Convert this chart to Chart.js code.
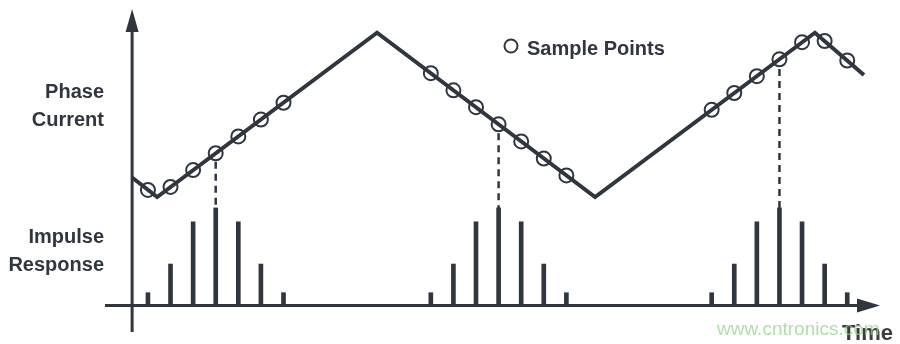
<!DOCTYPE html>
<html lang="en">
  <head>
    <meta charset="UTF-8" />
    <title>Phase Current Sampling and Impulse Response</title>
    <script src="https://cdn.jsdelivr.net/npm/chart.js"></script>
    <style>
      body { margin: 0; background: #ffffff; }
    </style>
  </head>
  <body>
    <canvas id="chart" width="900" height="344"></canvas>
    <script>
      // phase current waveform (time in sample periods, amplitude arbitrary)
      const waveTime = [0, 1.11, 10.84, 20.49, 30.22, 32.39];
      const waveCurrent = [43.3, 36.7, 92.3, 36.7, 92.3, 78];

      // sample points on the waveform
      const sampleTime = [
        0.7, 1.7, 2.7, 3.7, 4.7, 5.7, 6.7,
        13.22, 14.22, 15.22, 16.22, 17.22, 18.22, 19.22,
        25.65, 26.65, 27.65, 28.65, 29.65, 30.65, 31.65,
      ];
      const sampleCurrent = [
        39.1, 40.1, 45.8, 51.5, 57.2, 62.9, 68.6,
        78.6, 72.8, 67.1, 61.3, 55.5, 49.7, 44.0,
        66.2, 71.9, 77.6, 83.3, 89.1, 89.5, 82.9,
      ];

      // impulse response taps under each group of samples
      const impulseHeight = [
        4.3, 14, 28.3, 33, 28.3, 14, 4.3,
        4.3, 14, 28.3, 33, 28.3, 14, 4.3,
        4.3, 14, 28.3, 33, 28.3, 14, 4.3,
      ];

      // dashed markers from centre sample down to peak tap
      const dashTime = [3.7, 16.22, 28.65];
      const dashTop = [48.6, 58.3, 80];
      const dashBottom = [33, 33, 33];

      const ink = "#30363f";

      const axesPlugin = {
        id: "axes",
        beforeDatasetsDraw(chart) {
          const { ctx, chartArea, scales } = chart;
          const x0 = scales.x.getPixelForValue(0);
          const y0 = scales.y.getPixelForValue(0);
          ctx.save();
          ctx.strokeStyle = ink;
          ctx.fillStyle = ink;
          ctx.lineWidth = 3;
          ctx.beginPath();
          ctx.moveTo(x0, chartArea.bottom);
          ctx.lineTo(x0, chartArea.top + 20);
          ctx.moveTo(chartArea.left, y0);
          ctx.lineTo(chartArea.right - 20, y0);
          ctx.stroke();
          // arrow heads
          ctx.beginPath();
          ctx.moveTo(x0, chartArea.top);
          ctx.lineTo(x0 + 6.5, chartArea.top + 23);
          ctx.lineTo(x0 - 6.5, chartArea.top + 23);
          ctx.closePath();
          ctx.fill();
          ctx.beginPath();
          ctx.moveTo(chartArea.right, y0);
          ctx.lineTo(chartArea.right - 23, y0 - 7);
          ctx.lineTo(chartArea.right - 23, y0 + 7);
          ctx.closePath();
          ctx.fill();
          ctx.restore();
        },
        afterDraw(chart) {
          const { ctx } = chart;
          ctx.save();
          ctx.fillStyle = ink;
          ctx.font = 'bold 20px "Liberation Sans", Arial, sans-serif';
          ctx.textAlign = "right";
          ctx.textBaseline = "alphabetic";
          ctx.fillText("Phase", 104, 98);
          ctx.fillText("Current", 104, 126);
          ctx.fillText("Impulse", 104, 243);
          ctx.fillText("Response", 104, 271);

          // legend
          ctx.lineWidth = 2;
          ctx.strokeStyle = ink;
          ctx.beginPath();
          ctx.arc(511, 46, 6.5, 0, Math.PI * 2);
          ctx.stroke();
          ctx.textAlign = "left";
          ctx.fillText("Sample Points", 527, 55);

          ctx.fillStyle = "#3c3c3c";
          ctx.font = 'bold 22px "Liberation Sans", Arial, sans-serif';
          ctx.fillText("Time", 842, 340);

          ctx.fillStyle = "rgba(150, 210, 140, 0.75)";
          ctx.font = '19px "Liberation Sans", Arial, sans-serif';
          ctx.fillText("www.cntronics.com", 717, 335);
          ctx.restore();
        },
      };

      const dashSets = dashTime.map((t, i) => ({
        type: "line",
        data: [
          { x: t, y: dashTop[i] },
          { x: t, y: dashBottom[i] },
        ],
        borderColor: ink,
        borderWidth: 2.5,
        borderDash: [7, 5],
        pointRadius: 0,
        order: 3,
      }));

      const ctx = document.getElementById("chart").getContext("2d");
      new Chart(ctx, {
        type: "scatter",
        data: {
          datasets: [
            {
              type: "line",
              label: "Phase Current",
              data: waveTime.map((t, i) => ({ x: t, y: waveCurrent[i] })),
              borderColor: ink,
              borderWidth: 4,
              borderJoinStyle: "miter",
              pointRadius: 0,
              tension: 0,
              fill: false,
              order: 2,
            },
            {
              type: "scatter",
              label: "Sample Points",
              data: sampleTime.map((t, i) => ({ x: t, y: sampleCurrent[i] })),
              pointRadius: 7,
              pointBorderWidth: 2,
              pointBorderColor: ink,
              pointBackgroundColor: "rgba(0,0,0,0)",
              order: 1,
            },
            {
              type: "bar",
              label: "Impulse Response",
              data: sampleTime.map((t, i) => ({ x: t, y: impulseHeight[i] })),
              backgroundColor: ink,
              borderWidth: 0,
              barThickness: 4,
              order: 4,
            },
            ...dashSets,
          ],
        },
        options: {
          responsive: false,
          animation: false,
          layout: { padding: { left: 105, right: 20, top: 4, bottom: 12 } },
          scales: {
            x: { type: "linear", display: false, min: -1.2, max: 33.1, offset: false },
            y: { type: "linear", display: false, min: -9, max: 100.33 },
          },
          plugins: {
            legend: { display: false },
            tooltip: { enabled: false },
          },
        },
        plugins: [axesPlugin],
      });
    </script>
  </body>
</html>
